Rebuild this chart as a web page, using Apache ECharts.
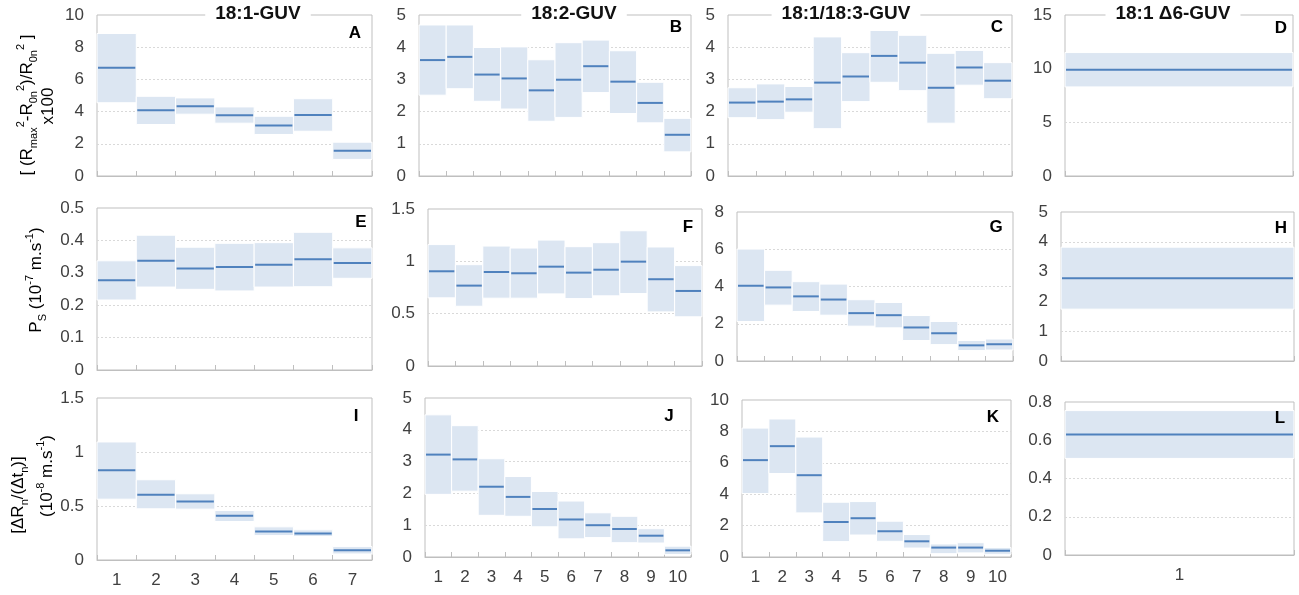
<!DOCTYPE html>
<html>
<head>
<meta charset="utf-8">
<script src="https://cdn.jsdelivr.net/npm/echarts@6/dist/echarts.min.js"></script>
<style>
    html, body { margin: 0; padding: 0; background: #fff; }
    #chart { width: 1299px; height: 595px; }
</style>
</head>
<body>
<div id="chart"></div>
<script>
// categories
var cat7 = ['1', '2', '3', '4', '5', '6', '7'];
var cat10 = ['1', '2', '3', '4', '5', '6', '7', '8', '9', '10'];
var cat1 = ['1'];

// row 1 : swelling
var aLow = [4.55, 3.2, 3.84, 3.28, 2.58, 2.78, 1.03];
var aHigh = [8.85, 4.95, 4.85, 4.29, 3.71, 4.8, 2.1];
var aMed = [6.72, 4.08, 4.33, 3.77, 3.13, 3.79, 1.57];

var bLow = [2.51, 2.71, 2.32, 2.08, 1.7, 1.82, 2.59, 1.94, 1.65, 0.75];
var bHigh = [4.69, 4.69, 3.99, 4.01, 3.61, 4.14, 4.22, 3.89, 2.91, 1.79];
var bMed = [3.6, 3.7, 3.15, 3.03, 2.66, 2.99, 3.41, 2.93, 2.27, 1.28];

var cLow = [1.81, 1.75, 1.98, 1.47, 2.31, 2.91, 2.65, 1.64, 2.82, 2.4];
var cHigh = [2.74, 2.86, 2.78, 4.32, 3.83, 4.52, 4.37, 3.81, 3.9, 3.52];
var cMed = [2.28, 2.31, 2.38, 2.9, 3.09, 3.73, 3.52, 2.74, 3.37, 2.96];

var dLow = [8.3];
var dHigh = [11.5];
var dMed = [9.9];

// row 2 : Ps
var eLow = [0.216, 0.256, 0.249, 0.244, 0.256, 0.257, 0.283];
var eHigh = [0.337, 0.416, 0.379, 0.391, 0.393, 0.425, 0.377];
var eMed = [0.277, 0.337, 0.313, 0.318, 0.325, 0.342, 0.33];

var fLow = [0.651, 0.571, 0.648, 0.648, 0.689, 0.644, 0.67, 0.692, 0.517, 0.47];
var fHigh = [1.16, 0.968, 1.146, 1.127, 1.203, 1.14, 1.178, 1.292, 1.137, 0.959];
var fMed = [0.905, 0.768, 0.898, 0.886, 0.949, 0.892, 0.92, 0.997, 0.829, 0.717];

var gLow = [2.12, 3.0, 2.66, 2.46, 1.87, 1.78, 1.1, 0.88, 0.56, 0.59];
var gHigh = [6.01, 4.87, 4.26, 4.13, 3.29, 3.14, 2.44, 2.12, 1.1, 1.18];
var gMed = [4.04, 3.95, 3.47, 3.3, 2.57, 2.46, 1.8, 1.49, 0.84, 0.9];

var hLow = [1.74];
var hHigh = [3.82];
var hMed = [2.78];

// row 3 : dR/dt
var iLow = [0.563, 0.474, 0.471, 0.356, 0.226, 0.217, 0.056];
var iHigh = [1.093, 0.743, 0.613, 0.458, 0.307, 0.279, 0.124];
var iMed = [0.83, 0.604, 0.542, 0.409, 0.263, 0.245, 0.09];

var jLow = [1.97, 2.07, 1.31, 1.28, 0.95, 0.57, 0.61, 0.45, 0.44, 0.08];
var jHigh = [4.47, 4.13, 3.09, 2.53, 2.06, 1.76, 1.39, 1.28, 0.89, 0.34];
var jMed = [3.22, 3.07, 2.21, 1.89, 1.51, 1.18, 1.0, 0.88, 0.67, 0.21];

var kLow = [4.04, 5.32, 2.81, 0.98, 1.4, 1.0, 0.57, 0.21, 0.26, 0.17];
var kHigh = [8.21, 8.79, 7.64, 3.49, 3.53, 2.28, 1.43, 0.83, 0.91, 0.6];
var kMed = [6.17, 7.06, 5.21, 2.23, 2.47, 1.64, 1.0, 0.6, 0.6, 0.4];

var lLow = [0.505];
var lHigh = [0.755];
var lMed = [0.63];

// y axis ranges: [max, interval]
var yRanges = [[10, 2], [5, 1], [5, 1], [15, 5], [0.5, 0.1], [1.5, 0.5], [8, 2], [5, 1], [1.5, 0.5], [5, 1], [10, 2], [0.8, 0.2]];
var panelLetters = ['A', 'B', 'C', 'D', 'E', 'F', 'G', 'H', 'I', 'J', 'K', 'L'];
var groupTitles = ['18:1-GUV', '18:2-GUV', '18:1/18:3-GUV', '18:1 \u03946-GUV'];

var panels = [
    { cats: cat7, low: aLow, high: aHigh, med: aMed },
    { cats: cat10, low: bLow, high: bHigh, med: bMed },
    { cats: cat10, low: cLow, high: cHigh, med: cMed },
    { cats: cat1, low: dLow, high: dHigh, med: dMed },
    { cats: cat7, low: eLow, high: eHigh, med: eMed },
    { cats: cat10, low: fLow, high: fHigh, med: fMed },
    { cats: cat10, low: gLow, high: gHigh, med: gMed },
    { cats: cat1, low: hLow, high: hHigh, med: hMed },
    { cats: cat7, low: iLow, high: iHigh, med: iMed },
    { cats: cat10, low: jLow, high: jHigh, med: jMed },
    { cats: cat10, low: kLow, high: kHigh, med: kMed },
    { cats: cat1, low: lLow, high: lHigh, med: lMed }
];

// plot rectangles [left, top, width, height]
var rects = [
    [97, 15, 275, 161], [419, 15, 272, 161], [728, 15, 284, 161], [1065, 15, 228, 161],
    [97, 208, 275, 162], [428, 209, 274, 157], [737, 212, 276, 149], [1061, 212, 233, 149],
    [97, 398, 275, 162], [425, 398, 266, 159], [742, 400, 269, 157], [1065, 402, 229, 153]
];
var letterPos = [
    [355, 33], [676, 27], [997, 27], [1281, 28],
    [361, 222], [688, 227], [996, 227], [1281, 228],
    [356, 416], [669, 416], [993, 417], [1280, 418]
];
var titlePos = [[258, 14], [574, 14], [846, 14], [1173, 14]];

var boxFill = '#dce6f2';
var medColor = '#4f81bd';
var borderColor = '#bfbfbf';
var labelColor = '#404040';

function renderBox(params, api) {
    var x = api.value(0);
    var pHigh = api.coord([x, api.value(2)]);
    var pLow = api.coord([x, api.value(1)]);
    var pMed = api.coord([x, api.value(3)]);
    var w = api.size([1, 0])[0];
    return {
        type: 'group',
        children: [
            {
                type: 'rect',
                shape: { x: pHigh[0] - w / 2, y: pHigh[1], width: w, height: pLow[1] - pHigh[1] },
                style: { fill: boxFill, stroke: '#fff', lineWidth: 1 }
            },
            {
                type: 'line',
                shape: { x1: pMed[0] - w / 2 + 1, y1: pMed[1], x2: pMed[0] + w / 2 - 1, y2: pMed[1] },
                style: { stroke: medColor, lineWidth: 2 }
            }
        ]
    };
}

var grids = [], xAxes = [], yAxes = [], series = [];
panels.forEach(function (p, k) {
    var r = rects[k];
    grids.push({
        left: r[0], top: r[1], width: r[2], height: r[3],
        show: true, borderColor: borderColor, borderWidth: 1, backgroundColor: '#fff'
    });
    xAxes.push({
        type: 'category',
        gridIndex: k,
        data: p.cats,
        axisLine: { show: true, lineStyle: { color: borderColor } },
        axisTick: { show: true, inside: true, length: 5, lineStyle: { color: borderColor } },
        axisLabel: { show: k >= 8, color: labelColor, fontSize: 17, margin: 12, fontFamily: 'Liberation Sans, Arial, sans-serif' },
        splitLine: { show: false }
    });
    yAxes.push({
        type: 'value',
        gridIndex: k,
        min: 0,
        max: yRanges[k][0],
        interval: yRanges[k][1],
        axisLine: { show: false },
        axisTick: { show: false },
        axisLabel: { color: labelColor, fontSize: 17, margin: 13, fontFamily: 'Liberation Sans, Arial, sans-serif' },
        splitLine: {
            show: true,
            showMinLine: false,
            showMaxLine: false,
            lineStyle: { color: '#d9d9d9', type: [2, 2], width: 1 }
        }
    });
    series.push({
        type: 'custom',
        xAxisIndex: k,
        yAxisIndex: k,
        renderItem: renderBox,
        encode: { x: 0, y: [1, 2, 3] },
        data: p.cats.map(function (c, i) { return [i, p.low[i], p.high[i], p.med[i]]; }),
        silent: true
    });
});

var font = 'Liberation Sans, Arial, sans-serif';
var rich = {
    n: { fontSize: 17, lineHeight: 24, color: '#333', fontFamily: font },
    sub: { fontSize: 11, lineHeight: 12, verticalAlign: 'bottom', color: '#333', fontFamily: font },
    sup: { fontSize: 11, lineHeight: 12, verticalAlign: 'top', color: '#333', fontFamily: font }
};

function yName(x, y, text) {
    return {
        type: 'text',
        x: x, y: y,
        rotation: Math.PI / 2,
        z: 100,
        style: { text: text, rich: rich, align: 'center', verticalAlign: 'middle' }
    };
}

var graphics = [
    yName(27, 105, '{n|[ (R}{sub|max}{sup|2}{n|-R}{sub|0n}{sup|2}{n|)/R}{sub|0n}{sup|2}{n| ]}'),
    yName(48, 106, '{n|x100}'),
    yName(36, 280, '{n|P}{sub|S}{n| (10}{sup|-7}{n| m.s}{sup|-1}{n|)}'),
    yName(18, 495, '{n|[\u0394R}{sub|n}{n|/(\u0394t}{sub|n}{n|)]}'),
    yName(47, 476, '{n|(10}{sup|-8}{n| m.s}{sup|-1}{n|)}')
];

groupTitles.forEach(function (t, i) {
    graphics.push({
        type: 'text',
        x: titlePos[i][0], y: titlePos[i][1],
        z: 100,
        style: {
            text: t, align: 'center', verticalAlign: 'middle',
            font: 'bold 19px ' + font, fill: '#111',
            backgroundColor: '#fff', padding: [2, 10]
        }
    });
});

panelLetters.forEach(function (t, i) {
    graphics.push({
        type: 'text',
        x: letterPos[i][0], y: letterPos[i][1],
        z: 100,
        style: { text: t, align: 'center', verticalAlign: 'middle', font: 'bold 17px ' + font, fill: '#000' }
    });
});

var chart = echarts.init(document.getElementById('chart'));
chart.setOption({
    animation: false,
    backgroundColor: '#fff',
    grid: grids,
    xAxis: xAxes,
    yAxis: yAxes,
    series: series,
    graphic: graphics
});
</script>
</body>
</html>
